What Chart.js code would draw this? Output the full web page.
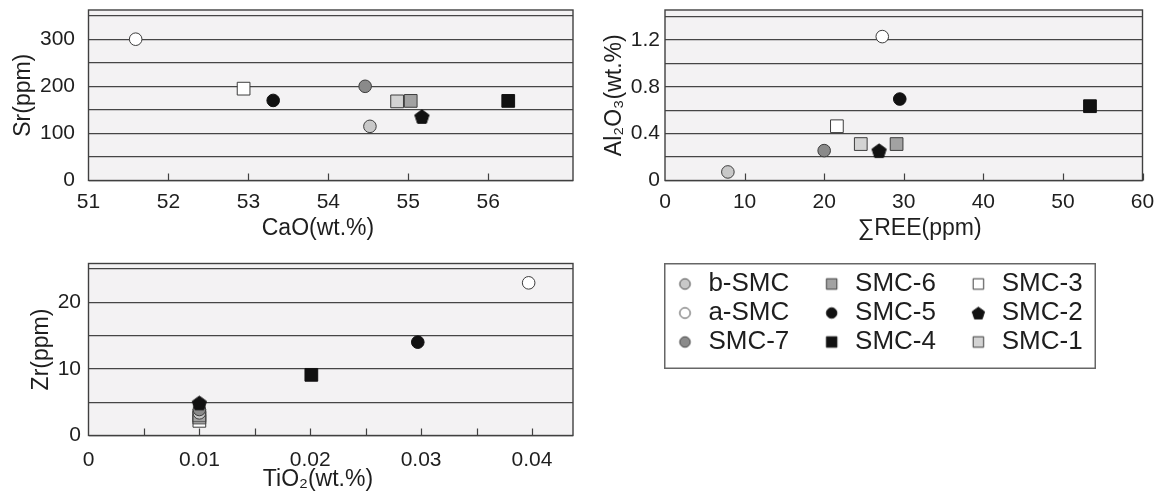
<!DOCTYPE html>
<html>
<head>
<meta charset="utf-8">
<script src="https://cdn.jsdelivr.net/npm/chart.js@4"></script>
<style>
html,body{margin:0;padding:0;background:#fff;width:1154px;height:499px;overflow:hidden;position:relative;}
canvas{position:absolute;display:block;}
</style>
</head>
<body>
<canvas id="cA" width="590" height="245" style="left:0px;top:0px"></canvas>
<canvas id="cB" width="577" height="245" style="left:577px;top:0px"></canvas>
<canvas id="cC" width="590" height="249" style="left:0px;top:250px"></canvas>
<canvas id="cD" width="490" height="236" style="left:664px;top:263px"></canvas>
<script>
// ---------------- DATA ----------------
const seriesNames = ['b-SMC', 'a-SMC', 'SMC-7', 'SMC-6', 'SMC-5', 'SMC-4', 'SMC-3', 'SMC-2', 'SMC-1'];

// Chart 1: CaO vs Sr
const caO = [54.52, 51.59, 54.46, 55.03, 53.31, 56.25, 52.94, 55.17, 54.86];
const sr  = [115,   300,   200,   169,   170,   169,   195,   136,   168];
// Chart 2: sum REE vs Al2O3
const sumREE = [7.9,   27.3,  20.0,  29.1,  29.5,  53.4,  21.6,  26.9,  24.6];
const al2o3  = [0.073, 1.228, 0.255, 0.311, 0.695, 0.634, 0.463, 0.255, 0.311];
// Chart 3: TiO2 vs Zr
const tio2 = [0.01, 0.0397, 0.01, 0.01, 0.0297, 0.0201, 0.01, 0.01, 0.01];
const zr   = [3.4,  22.9,   3.9,  3.0,  14.0,   9.1,    2.2,  4.9,  2.7];

// Tick values and labels
const caOTickValues = [51, 52, 53, 54, 55, 56];
const caOTickLabels = ['51', '52', '53', '54', '55', '56'];
const caOTickMarks  = [52, 53, 54, 55, 56];
const srTickValues  = [0, 50, 100, 150, 200, 250, 300, 350];
const srTickLabels  = ['0', '', '100', '', '200', '', '300', ''];

const reeTickValues = [0, 10, 20, 30, 40, 50, 60];
const reeTickLabels = ['0', '10', '20', '30', '40', '50', '60'];
const reeTickMarks  = [10, 20, 30, 40, 50, 60];
const alTickValues  = [0, 0.2, 0.4, 0.6, 0.8, 1.0, 1.2, 1.4];
const alTickLabels  = ['0', '', '0.4', '', '0.8', '', '1.2', ''];

const tiTickValues = [0, 0.01, 0.02, 0.03, 0.04];
const tiTickLabels = ['0', '0.01', '0.02', '0.03', '0.04'];
const tiTickMarks  = [0.005, 0.01, 0.015, 0.02, 0.025, 0.03, 0.035, 0.04];
const zrTickValues = [0, 5, 10, 15, 20, 25];
const zrTickLabels = ['0', '', '10', '', '20', ''];

// ---------------- STYLES ----------------
const seriesShape  = ['circle', 'circle', 'circle', 'rect', 'circle', 'rect', 'rect', 'pentagon', 'rect'];
const seriesFill   = ['#c8c8c8', '#ffffff', '#8a8a8a', '#a2a2a2', '#111111', '#111111', '#ffffff', '#111111', '#d3d3d3'];
const seriesStroke = ['#3c3c3c', '#3c3c3c', '#3c3c3c', '#3c3c3c', '#111111', '#111111', '#3c3c3c', '#111111', '#3c3c3c'];
const seriesOrder  = [2, 0, 1, 3, 0, 0, 5, 0, 4];
const legendOrder  = [0, 3, 6, 1, 4, 7, 2, 5, 8];

const FONT = "'Liberation Sans', Arial, Helvetica, sans-serif";
const TEXT = '#1e1e1e';
const GRID = '#454545';
const FRAME = '#404040';
const PLOTBG = '#f3f2f3';

function makeMarker(shape, fill, stroke, size, lw) {
  const c = document.createElement('canvas');
  const s = Math.ceil(size + 2 * lw + 2);
  c.width = s; c.height = s;
  const g = c.getContext('2d');
  const m = s / 2;
  g.beginPath();
  if (shape === 'circle') {
    g.arc(m, m, size / 2, 0, Math.PI * 2);
  } else if (shape === 'rect') {
    g.rect(m - size / 2, m - size / 2, size, size);
  } else {
    const r = size / 2;
    for (let k = 0; k < 5; k++) {
      const a = -Math.PI / 2 + k * 2 * Math.PI / 5;
      const px = m + r * Math.cos(a), py = m + r * 0.1 + r * Math.sin(a);
      if (k) g.lineTo(px, py); else g.moveTo(px, py);
    }
    g.closePath();
  }
  g.fillStyle = fill; g.fill();
  g.lineWidth = lw; g.strokeStyle = stroke; g.stroke();
  return c;
}

const pentagonBig = makeMarker('pentagon', '#111111', '#111111', 15, 1);

const framePlugin = {
  id: 'frame',
  beforeDraw(chart) {
    const a = chart.chartArea, ctx = chart.ctx;
    ctx.save();
    ctx.fillStyle = PLOTBG;
    ctx.fillRect(a.left, a.top, a.right - a.left, a.bottom - a.top);
    ctx.restore();
  },
  beforeDatasetsDraw(chart, args, opts) {
    const a = chart.chartArea, ctx = chart.ctx;
    const xs = chart.scales.x;
    ctx.save();
    ctx.strokeStyle = FRAME;
    ctx.lineWidth = 1.4;
    ctx.strokeRect(a.left, a.top, a.right - a.left, a.bottom - a.top);
    ctx.beginPath();
    (opts.marks || []).forEach(v => {
      const px = Math.round(xs.getPixelForValue(v)) + 0.5;
      ctx.moveTo(px, a.bottom);
      ctx.lineTo(px, a.bottom - 7);
    });
    ctx.lineWidth = 1.2;
    ctx.stroke();
    ctx.restore();
  }
};

function makeScatter(id, xv, yv, cfg) {
  const datasets = seriesNames.map((name, i) => ({
    label: name,
    data: [{ x: xv[i], y: yv[i] }],
    pointStyle: seriesShape[i] === 'pentagon' ? pentagonBig : seriesShape[i],
    pointRadius: seriesShape[i] === 'rect' ? 9 : 6.3,
    backgroundColor: seriesFill[i],
    borderColor: seriesStroke[i],
    borderWidth: 1,
    order: seriesOrder[i]
  }));
  return new Chart(document.getElementById(id), {
    type: 'scatter',
    data: { datasets },
    plugins: [framePlugin],
    options: {
      responsive: false,
      animation: false,
      events: [],
      layout: { padding: cfg.padding },
      plugins: {
        legend: { display: false },
        tooltip: { enabled: false },
        frame: { marks: cfg.xMarks }
      },
      scales: {
        x: {
          type: 'linear',
          min: cfg.xMin, max: cfg.xMax,
          afterBuildTicks: s => { s.ticks = cfg.xTicks.map(v => ({ value: v })); },
          afterFit: s => { s.height = cfg.xH; s.paddingLeft = 0; s.paddingRight = 0; },
          ticks: {
            autoSkip: false, maxRotation: 0, minRotation: 0,
            padding: cfg.xTickPad,
            color: TEXT,
            font: { family: FONT, size: 21 },
            callback: (v, i) => cfg.xLabels[i]
          },
          grid: { display: false, drawTicks: false },
          border: { display: false },
          title: {
            display: true, text: cfg.xTitle, color: TEXT,
            font: { family: FONT, size: 23 },
            padding: { top: 0, bottom: cfg.xTitlePad }
          }
        },
        y: {
          type: 'linear',
          min: cfg.yMin, max: cfg.yMax,
          afterBuildTicks: s => { s.ticks = cfg.yTicks.map(v => ({ value: v })); },
          afterFit: s => { s.width = cfg.yW; s.paddingTop = 0; s.paddingBottom = 0; },
          ticks: {
            autoSkip: false,
            padding: cfg.yTickPad,
            color: TEXT,
            font: { family: FONT, size: 21 },
            callback: (v, i) => cfg.yLabels[i]
          },
          grid: { color: GRID, lineWidth: 1.3, drawTicks: false },
          border: { display: false },
          title: {
            display: true, text: cfg.yTitle, color: TEXT,
            font: { family: FONT, size: 23 },
            padding: { top: cfg.yTitlePad, bottom: 0 }
          }
        }
      }
    }
  });
}

makeScatter('cA', caO, sr, {
  padding: { left: 0, top: 8, right: 17, bottom: 0 },
  xMin: 51, xMax: 57.06, xTicks: caOTickValues, xLabels: caOTickLabels, xMarks: caOTickMarks,
  yMin: 0, yMax: 362, yTicks: srTickValues, yLabels: srTickLabels,
  xH: 64.5, yW: 88.5, xTickPad: 9.4, yTickPad: 13.5, xTitlePad: 2.2, yTitlePad: 10.2,
  xTitle: 'CaO(wt.%)    ', yTitle: 'Sr(ppm)'
});

makeScatter('cB', sumREE, al2o3, {
  padding: { left: 0, top: 7.5, right: 11.5, bottom: 0 },
  xMin: 0, xMax: 60, xTicks: reeTickValues, xLabels: reeTickLabels, xMarks: reeTickMarks,
  yMin: 0, yMax: 1.455, yTicks: alTickValues, yLabels: alTickLabels,
  xH: 64.5, yW: 88, xTickPad: 9.4, yTickPad: 5, xTitlePad: 2.2, yTitlePad: 24.2,
  xTitle: '     ∑REE(ppm)', yTitle: 'Al₂O₃(wt.%)'
});

makeScatter('cC', tio2, zr, {
  padding: { left: 0, top: 13.5, right: 17, bottom: 0 },
  xMin: 0, xMax: 0.0437, xTicks: tiTickValues, xLabels: tiTickLabels, xMarks: tiTickMarks,
  yMin: 0, yMax: 25.8, yTicks: zrTickValues, yLabels: zrTickLabels,
  xH: 63.5, yW: 88.5, xTickPad: 12.4, yTickPad: 7.5, xTitlePad: 5.2, yTitlePad: 28.2,
  xTitle: 'TiO₂(wt.%)    ', yTitle: 'Zr(ppm)'
});

// Legend chart
const legendMarkers = seriesNames.map((n, i) => {
  const sh = seriesShape[i];
  const size = sh === 'circle' ? 10.5 : (sh === 'rect' ? 10.5 : 13);
  return makeMarker(sh, seriesFill[i], seriesStroke[i], size, 1);
});

const legendBoxPlugin = {
  id: 'legendBox',
  afterDraw(chart) {
    const ctx = chart.ctx;
    ctx.save();
    ctx.strokeStyle = '#666666';
    ctx.lineWidth = 1.5;
    ctx.strokeRect(0.75, 0.75, 432 - 1.5, 106 - 1.5);
    ctx.restore();
  }
};

new Chart(document.getElementById('cD'), {
  type: 'scatter',
  data: { datasets: seriesNames.map((n, i) => ({ label: n, data: [] })) },
  plugins: [legendBoxPlugin],
  options: {
    responsive: false,
    animation: false,
    events: [],
    layout: { padding: { left: 7.5, top: 5, right: 0, bottom: 0 } },
    scales: { x: { display: false }, y: { display: false } },
    plugins: {
      tooltip: { enabled: false },
      legend: {
        display: true,
        position: 'top',
        align: 'start',
        labels: {
          usePointStyle: true,
          boxWidth: 20.9,
          boxHeight: 8,
          padding: 3,
          color: TEXT,
          font: { family: FONT, size: 26 },
          generateLabels: () => legendOrder.map(i => ({
            text: seriesNames[i] + '    ',
            pointStyle: legendMarkers[i],
            fillStyle: seriesFill[i],
            strokeStyle: seriesStroke[i],
            lineWidth: 0,
            hidden: false,
            datasetIndex: i,
            fontColor: TEXT
          }))
        }
      }
    }
  }
});
</script>
</body>
</html>
